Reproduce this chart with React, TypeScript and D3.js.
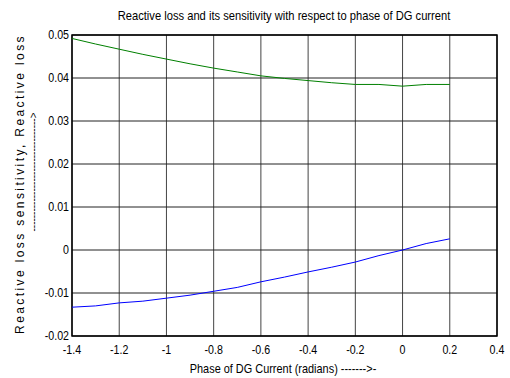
import React, { useEffect, useRef } from "react";
import * as d3 from "d3";

// phase of DG current (radians)
const phase = [-1.4, -1.3, -1.2, -1.1, -1.0, -0.9, -0.8, -0.7, -0.6, -0.5, -0.4, -0.3, -0.2, -0.1, 0.0, 0.1, 0.2];
// reactive loss (green)
const reactiveLoss = [0.0492, 0.0479, 0.0467, 0.0455, 0.0444, 0.0433, 0.0423, 0.0414, 0.0405, 0.0399, 0.0394, 0.0389, 0.0385, 0.0385, 0.0381, 0.0385, 0.0385];
// reactive loss sensitivity (blue)
const sensitivity = [-0.0133, -0.013, -0.0123, -0.0119, -0.0112, -0.0105, -0.0096, -0.0087, -0.0074, -0.0063, -0.0051, -0.004, -0.0028, -0.0013, 0.0, 0.0015, 0.0026];

const xTicks = [-1.4, -1.2, -1, -0.8, -0.6, -0.4, -0.2, 0, 0.2, 0.4];
const yTicks = [-0.02, -0.01, 0, 0.01, 0.02, 0.03, 0.04, 0.05];

const W = 510;
const H = 378;
const margin = { left: 72, right: 13, top: 35, bottom: 42 };
const FONT = "'Liberation Sans Narrow', 'Arial Narrow', 'Liberation Sans', Arial, sans-serif";

export default function App() {
  const svgRef = useRef<SVGSVGElement>(null);

  useEffect(() => {
    const svg = d3.select(svgRef.current);
    svg.selectAll("*").remove();

    const x = d3.scaleLinear().domain([-1.4, 0.4]).range([margin.left, W - margin.right]);
    const y = d3.scaleLinear().domain([-0.02, 0.05]).range([H - margin.bottom, margin.top]);

    const g = svg.append("g");

    // condensed text: squeeze horizontally to mimic the narrow font
    const label = (sel: any, tx: number, ty: number, s: string, anchor: string, size: number, sx: number, rot = 0) =>
      sel.append("text")
        .attr("transform", `translate(${tx},${ty}) rotate(${rot}) scale(${sx},1)`)
        .attr("text-anchor", anchor)
        .attr("font-family", FONT)
        .attr("font-size", size)
        .text(s);

    // grid
    g.selectAll(".vgrid")
      .data(xTicks)
      .join("line")
      .attr("x1", d => x(d))
      .attr("x2", d => x(d))
      .attr("y1", y(-0.02))
      .attr("y2", y(0.05))
      .attr("stroke", "#444")
      .attr("stroke-width", 1);
    g.selectAll(".hgrid")
      .data(yTicks)
      .join("line")
      .attr("x1", x(-1.4))
      .attr("x2", x(0.4))
      .attr("y1", d => y(d))
      .attr("y2", d => y(d))
      .attr("stroke", "#222")
      .attr("stroke-width", 1);

    // frame
    g.append("rect")
      .attr("x", x(-1.4))
      .attr("y", y(0.05))
      .attr("width", x(0.4) - x(-1.4))
      .attr("height", y(-0.02) - y(0.05))
      .attr("fill", "none")
      .attr("stroke", "#000")
      .attr("stroke-width", 1.5);

    // tick labels
    xTicks.forEach(d => label(g, x(d), H - margin.bottom + 18, String(d), "middle", 13, 0.82));
    yTicks.forEach(d => label(g, margin.left - 3, y(d) + 4, String(d), "end", 13, 0.82));

    // lines
    const line = d3.line<number>()
      .x((d, i) => x(phase[i]))
      .y(d => y(d));
    g.append("path")
      .attr("d", line(reactiveLoss))
      .attr("fill", "none")
      .attr("stroke", "#008000")
      .attr("stroke-width", 1);
    g.append("path")
      .attr("d", line(sensitivity))
      .attr("fill", "none")
      .attr("stroke", "#0000ff")
      .attr("stroke-width", 1);

    // title and axis labels
    label(svg, 284, 20, "Reactive loss and its sensitivity with respect to phase of DG current", "middle", 13, 0.86);
    label(svg, 283, 373, "Phase of DG Current (radians) ------->-", "middle", 13, 0.84);
    svg.append("text")
      .attr("transform", "translate(24,184) rotate(-90)")
      .attr("text-anchor", "middle")
      .attr("font-family", FONT)
      .attr("font-size", 12)
      .attr("letter-spacing", 2.4)
      .text("Reactive loss sensitivity, Reactive loss");
    svg.append("text")
      .attr("transform", "translate(37,172) rotate(-90)")
      .attr("text-anchor", "middle")
      .attr("font-family", FONT)
      .attr("font-size", 10)
      .text("---------------------------------->");
  }, []);

  return (
    <div style={{ position: "absolute", left: 0, top: 0 }}>
      <svg ref={svgRef} width={W} height={H} style={{ display: "block", background: "#fff" }} />
    </div>
  );
}
